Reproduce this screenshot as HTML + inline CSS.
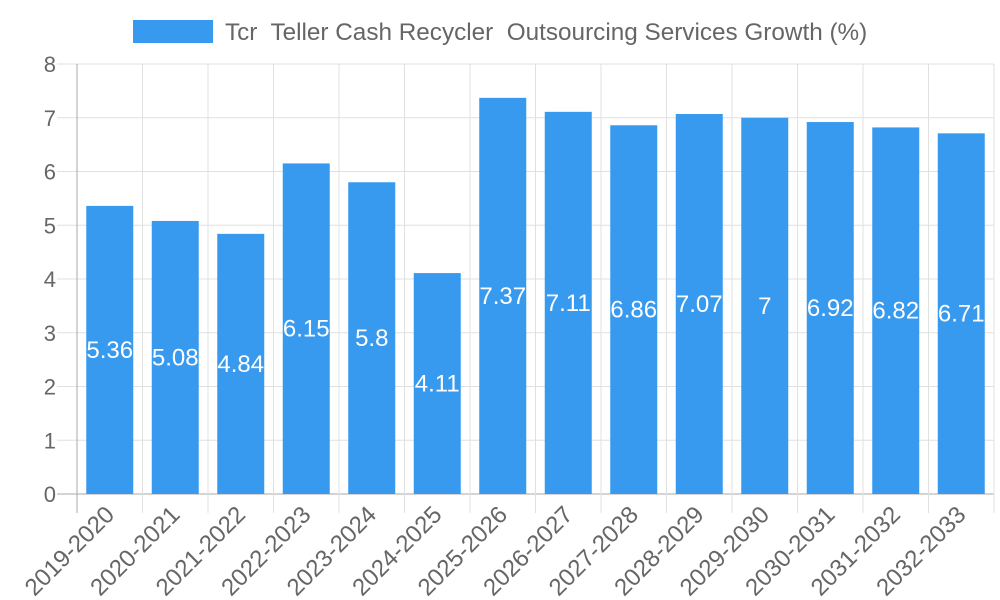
<!DOCTYPE html>
<html><head><meta charset="utf-8"><style>
body{margin:0;background:#fff;}
svg{display:block;font-family:"Liberation Sans",sans-serif;}
text{white-space:pre;}
</style></head><body>
<svg id="c" width="1000" height="600">
<g>
<rect x="133" y="20" width="80" height="23" fill="#379aef"/>
<text x="225" y="40" font-size="24.3" fill="#666" xml:space="preserve">Tcr  Teller Cash Recycler  Outsourcing Services Growth (%)</text>
</g>
</svg>
<script>
const categories=["2019-2020","2020-2021","2021-2022","2022-2023","2023-2024","2024-2025","2025-2026","2026-2027","2027-2028","2028-2029","2029-2030","2030-2031","2031-2032","2032-2033"];
const values=[5.36,5.08,4.84,6.15,5.8,4.11,7.37,7.11,6.86,7.07,7,6.92,6.82,6.71];
const yTicks=[0,1,2,3,4,5,6,7,8];
const svg=document.getElementById('c');
const NS='http://www.w3.org/2000/svg';
const L=77,R=994,T=64,B=494,yMax=8;
const bw=(R-L)/categories.length;
const y=v=>B-(v/yMax)*(B-T);
const x=i=>L+i*bw;
function mk(t,a){const e=document.createElementNS(NS,t);for(const k in a)e.setAttribute(k,a[k]);svg.appendChild(e);return e;}
yTicks.forEach(v=>{
 const g=mk('line',{x1:L-20,x2:R,y1:y(v),y2:y(v),stroke:v===0?'#aaa':'#e0e0e0','stroke-width':1});
 
 
 const t=mk('text',{x:L-21,y:y(v)+8,'font-size':22,fill:'#666','text-anchor':'end'});
 t.textContent=v;
 
 
});
for(let i=0;i<=categories.length;i++){
 const g=mk('line',{x1:x(i),x2:x(i),y1:T,y2:B+19,stroke:i===0?'#aaa':'#e0e0e0','stroke-width':1});
 
 
}
categories.forEach((c,i)=>{
 const cx=x(i)+bw/2,w=47;
 const r=mk('rect',{x:cx-w/2,y:y(values[i]),width:w,height:B-y(values[i]),fill:'#379aef'});
 
 
 const t=mk('text',{x:cx,y:y(values[i]/2)+8,'font-size':24,fill:'#fff','text-anchor':'middle'});
 t.textContent=values[i];
 
 
 const lx=cx+6,ly=B+22;
 const xl=mk('text',{x:lx,y:ly,'font-size':24,fill:'#666','text-anchor':'end',transform:`rotate(-45 ${lx} ${ly})`});
 xl.textContent=c;
 
 
});
</script>
</body></html>
